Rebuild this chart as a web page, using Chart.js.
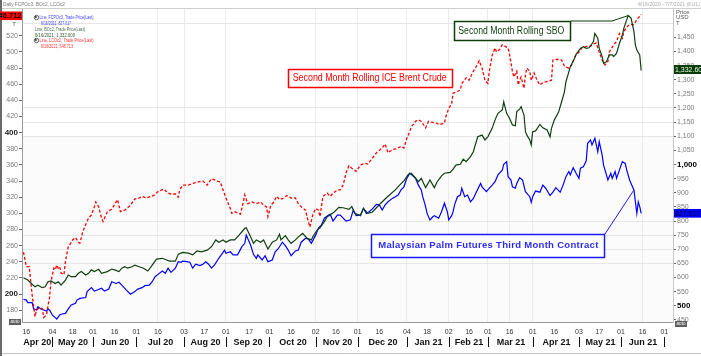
<!DOCTYPE html>
<html><head><meta charset="utf-8">
<style>html,body{margin:0;padding:0;background:#fff;overflow:hidden}canvas{display:block}</style>
<script src="https://cdn.jsdelivr.net/npm/chart.js@4.4.1/dist/chart.umd.min.js"></script>
</head><body>
<canvas id="c" width="701" height="356" style="width:701px;height:356px"></canvas>
<script>
// x values are calendar days since 2020-04-16
const brentDays = [-2,0,2,4,6,7,9,11,12,14,15,16,17,19,20,21,22,23,24,26,27,29,30,32,34,36,37,39,41,43,45,47,48,50,52,53,54,56,59,61,63,65,68,70,72,75,77,80,83,86,88,91,95,98,100,103,105,106,108,112,115,119,122,125,128,132,134,136,138,141,142,144,148,150,151,153,156,159,162,164,166,167,169,171,173,175,178,180,183,186,188,190,193,194,196,198,200,202,203,205,208,210,212,215,217,219,221,223,225,228,231,234,236,239,242,246,248,250,253,256,259,261,263,265,266,269,271,273,276,278,280,283,286,289,290,292,294,295,298,300,301,304,306,307,309,311,313,315,317,319,320,322,324,325,327,329,331,333,334,336,337,339,340,341,342,344,345,346,348,349,351,353,355,357,361,363,364,367,370,372,375,377,379,382,384,387,390,392,394,396,398,400,402,403,406,408,410,412,413,415,417,420,422,425];
const brentVals = [252,234,234,199,172,180,183,182,171,174,186,195,215,232,230,236,232,234,226,224,240,259,261,267,270,264,263,277,286,294,298,308,314,308,294,290,294,302,305,311,317,302,304,307,310,318,318,321,319,321,322,327,330,325,324,324,320,329,335,335,337,339,340,335,343,340,339,329,319,306,300,302,299,314,323,312,314,312,314,310,308,296,310,314,321,317,319,322,319,319,312,308,304,296,283,298,306,304,296,321,325,321,325,329,329,335,350,359,356,352,360,362,361,368,375,381,386,375,379,380,383,381,393,401,407,414,416,414,406,414,413,412,410,412,420,430,436,449,451,453,461,468,465,469,476,482,489,480,465,461,476,496,505,500,503,509,507,505,497,476,469,476,459,465,469,455,472,480,476,465,474,465,459,462,464,465,490,491,490,482,480,484,494,500,505,507,507,510,511,500,490,484,488,500,509,513,523,517,525,531,534,534,540,546.712];

const sboDays = [-2,1,4,6,8,11,13,15,17,20,22,24,27,29,31,34,36,38,41,43,45,47,50,52,56,59,61,64,66,68,70,73,75,78,81,84,87,90,94,97,99,103,105,108,112,115,118,121,125,128,131,133,136,138,141,144,147,149,151,152,155,157,159,162,164,167,170,173,175,176,179,181,183,186,188,191,194,197,198,201,203,206,208,210,213,216,219,223,225,227,231,233,236,239,242,245,248,251,255,258,261,264,266,269,271,273,276,279,282,284,287,289,293,295,297,300,302,304,307,309,310,312,315,317,319,322,324,326,329,330,332,334,336,338,339,341,342,344,345,346,348,349,350,352,355,357,360,362,363,365,368,370,372,373,375,376,379,380,383,385,387,389,392,393,395,396,398,399,401,403,405,406,408,410,412,413,415,416,417,418,420,421,422,424,425];
const sboVals = [599,591,576,567,573,564,567,585,588,579,585,573,591,609,603,603,615,621,609,615,627,621,629,615,621,630,627,621,633,638,633,638,644,638,633,623,644,665,668,662,658,658,682,689,686,680,694,691,697,709,733,725,733,725,733,733,750,762,774,776,744,721,733,725,733,701,725,733,753,733,748,733,721,733,744,756,739,733,744,768,776,798,815,821,833,848,847,841,851,827,819,845,827,831,847,863,878,892,910,927,942,965,969,953,939,951,918,945,918,939,960,969,972,984,998,1001,1019,1010,1028,1045,1063,1098,1104,1087,1098,1128,1158,1181,1193,1222,1181,1164,1140,1137,1187,1196,1205,1175,1116,1104,1087,1069,1116,1119,1142,1130,1122,1098,1128,1158,1187,1222,1258,1293,1328,1346,1376,1390,1411,1417,1411,1413,1435,1464,1447,1411,1382,1358,1364,1388,1388,1382,1394,1429,1458,1482,1512,1527,1523,1518,1470,1423,1405,1388,1332.6];

const palmDays = [-2,0,1,4,5,7,8,10,12,14,15,16,18,20,21,23,24,27,29,31,34,35,37,41,42,45,47,49,52,54,57,59,62,64,66,69,72,75,77,80,82,85,87,89,91,94,96,98,100,103,105,107,108,111,113,115,117,120,122,124,126,128,130,133,135,137,138,141,143,146,149,151,152,155,157,159,160,163,165,167,170,172,174,177,179,181,183,186,188,190,193,195,197,200,202,204,206,209,210,212,215,217,219,221,224,226,228,231,233,235,237,239,242,244,246,248,250,253,255,257,259,261,263,265,266,269,271,273,274,276,277,279,281,282,285,287,289,291,292,294,295,296,298,300,301,303,305,307,309,311,314,315,318,319,322,324,326,329,330,332,333,335,336,338,339,341,343,345,346,348,349,350,352,355,357,359,362,364,366,369,371,373,375,376,378,380,382,383,385,387,388,390,391,393,395,396,398,399,401,402,404,405,407,408,410,412,414,415,417,418,420,421,422,423,424,425];
const palmVals = [523,520,511,511,489,485,497,489,485,481,489,485,467,458,453,467,470,473,489,503,509,520,526,529,550,564,552,556,562,552,559,585,579,583,573,556,541,550,559,564,571,573,585,603,611,623,615,633,618,633,656,654,658,656,654,633,647,642,647,656,647,633,644,668,682,697,686,691,680,680,709,721,750,715,682,668,680,662,677,656,662,691,701,725,713,697,677,694,697,725,739,736,721,750,776,786,810,821,824,800,821,821,810,800,804,839,819,821,845,827,833,842,859,857,839,857,868,880,886,892,910,921,951,969,965,951,927,910,886,851,827,804,815,819,810,833,863,833,804,819,833,857,886,892,916,886,892,868,880,902,933,921,904,910,927,939,963,980,1001,1010,957,945,921,916,933,953,945,904,898,886,866,886,906,902,927,916,890,902,918,902,927,957,975,963,989,969,951,987,992,1012,1075,1087,1069,1093,1045,1081,1034,998,963,945,969,951,975,951,981,1010,1004,981,945,933,910,868,827,868,851,827.017];

const tickDates = ['2020-04-16','2020-05-04','2020-05-18','2020-06-01','2020-06-16','2020-07-01','2020-07-16','2020-08-03','2020-08-17','2020-09-01','2020-09-17','2020-10-01','2020-10-16','2020-11-02','2020-11-16','2020-12-01','2020-12-16','2021-01-04','2021-01-18','2021-02-02','2021-02-16','2021-03-01','2021-03-16','2021-04-01','2021-04-16','2021-05-03','2021-05-17','2021-06-01','2021-06-16','2021-07-01'];
const tickLabels = tickDates.map(s => s.slice(8));
const monthStarts = ['2020-05-04','2020-06-01','2020-07-01','2020-08-03','2020-09-01','2020-10-01','2020-11-02','2020-12-01','2021-01-04','2021-02-02','2021-03-01','2021-04-01','2021-05-03','2021-06-01','2021-07-01'];
const monthLabels = ['Apr 20','May 20','Jun 20','Jul 20','Aug 20','Sep 20','Oct 20','Nov 20','Dec 20','Jan 21','Feb 21','Mar 21','Apr 21','May 21','Jun 21'];
const gridDates = ['2020-07-16','2020-08-03','2020-09-01','2020-11-02','2020-12-01','2021-01-04','2021-02-02','2021-03-01','2021-03-16','2021-04-01','2021-06-16'];
const leftTicks = [180,200,220,240,260,280,300,320,340,360,380,400,420,440,460,480,500,520];
const leftBold = [200,400];
const rightTicks = [450,500,550,600,650,700,750,800,850,900,950,1000,1050,1100,1150,1200,1250,1300,1350,1400,1450];
const rightBold = [500,1000];
const rightGrid = [650,700,750,800,1100,1150,1200,1500];

const FONT = "'Liberation Sans', Arial, sans-serif";
const BASE = Date.UTC(2020,3,16);
const dayOf = s => { const p = s.split('-').map(Number); return Math.round((Date.UTC(p[0],p[1]-1,p[2]) - BASE)/86400000); };
const tickDays = tickDates.map(dayOf);
const monthDays = monthStarts.map(dayOf);
const gridDays = gridDates.map(dayOf);
const pts = (xs, ys) => xs.map((x,i) => ({x, y: ys[i]}));
const tv = c => (c && c.tick) ? c.tick.value : null;

function drawFit(ctx, text, x, y, font, color, target, align) {
  ctx.save();
  ctx.font = font; ctx.fillStyle = color; ctx.textBaseline = 'middle'; ctx.textAlign = 'left';
  const w = ctx.measureText(text).width;
  const left = align === 'center' ? x - target/2 : (align === 'right' ? x - target : x);
  if (w >= target) {
    ctx.translate(left, y); ctx.scale(target / w, 1); ctx.fillText(text, 0, 0);
  } else {
    const gap = (target - w) / Math.max(1, text.length - 1);
    let cx = left;
    for (const ch of text) { ctx.fillText(ch, cx, y); cx += ctx.measureText(ch).width + gap; }
  }
  ctx.restore();
}

const deco = {
  id: 'deco',
  beforeDraw(chart) {
    const {ctx, chartArea: a, scales} = chart;
    ctx.save();
    ctx.fillStyle = '#fff'; ctx.fillRect(0, 0, chart.width, chart.height);
    const ys = scales.yR.getPixelForValue(1100);
    ctx.fillStyle = '#fbfbfb'; ctx.fillRect(a.left, ys, a.right - a.left, a.bottom - ys);
    ctx.restore();
  },
  afterDraw(chart) {
    const {ctx, chartArea: a, scales} = chart;
    const X = scales.x, YL = scales.yL, YR = scales.yR;
    ctx.save();
    ctx.strokeStyle = '#cfcfcf'; ctx.lineWidth = 1;
    ctx.beginPath(); ctx.moveTo(0, 8.5); ctx.lineTo(701, 8.5); ctx.stroke();
    ctx.strokeStyle = '#c4c4c4';
    ctx.beginPath(); ctx.moveTo(0, 353.5); ctx.lineTo(701, 353.5); ctx.stroke();
    ctx.fillStyle = '#6a6a6a'; ctx.fillRect(0, 0, 2, 356);

    ctx.strokeStyle = '#111'; ctx.lineWidth = 1;
    let prev = a.left;
    monthDays.forEach((d, i) => {
      const px = Math.round(X.getPixelForValue(d)) + 0.5;
      ctx.beginPath(); ctx.moveTo(px, 337); ctx.lineTo(px, 347); ctx.stroke();
      ctx.font = 'bold 9px ' + FONT; ctx.fillStyle = '#111'; ctx.textAlign = 'center'; ctx.textBaseline = 'middle';
      ctx.fillText(monthLabels[i], (prev + px) / 2, 342.5);
      prev = px;
    });

    const pk = {x: X.getPixelForValue(416), y: YR.getPixelForValue(1527)};
    ctx.strokeStyle = '#0d3d0d'; ctx.lineWidth = 1;
    ctx.beginPath(); ctx.moveTo(571, 21); ctx.lineTo(612, 21); ctx.lineTo(pk.x, pk.y); ctx.stroke();
    const pp = {x: X.getPixelForValue(420), y: YR.getPixelForValue(910)};
    ctx.strokeStyle = '#1a1aff';
    ctx.beginPath(); ctx.moveTo(605, 234); ctx.lineTo(pp.x, pp.y); ctx.stroke();

    const box = (x0, y0, x1, y1, col) => {
      ctx.fillStyle = '#fff'; ctx.fillRect(x0, y0, x1 - x0, y1 - y0);
      ctx.strokeStyle = col; ctx.lineWidth = 1.5; ctx.strokeRect(x0 + 0.5, y0 + 0.5, x1 - x0 - 1, y1 - y0 - 1);
    };
    box(288, 69, 453, 88, '#ff0000');
    drawFit(ctx, 'Second Month Rolling ICE Brent Crude', 369.7, 78.3, '10px ' + FONT, '#ff0000', 154, 'center');
    box(454, 21, 571, 41, '#0d3d0d');
    drawFit(ctx, 'Second Month Rolling SBO', 511.3, 30.8, '10.5px ' + FONT, '#0d3d0d', 106, 'center');
    box(371, 234, 605, 258, '#1a1aff');
    drawFit(ctx, 'Malaysian Palm Futures Third Month Contract', 488.3, 245.5, 'bold 9.5px ' + FONT, '#2b2bff', 220, 'center');

    const icon = (x, y) => {
      ctx.strokeStyle = '#333'; ctx.lineWidth = 0.8;
      ctx.beginPath(); ctx.arc(x, y, 2.2, 0, Math.PI * 2); ctx.stroke();
      ctx.fillStyle = '#333'; ctx.beginPath(); ctx.arc(x - 0.6, y - 0.6, 1, 0, Math.PI * 2); ctx.fill();
    };
    icon(36.5, 17.5); icon(36.5, 40.5);
    drawFit(ctx, 'Line, FCPOc3, Trade Price(Last)', 39.5, 17.5, '5.5px ' + FONT, '#3a3aff', 54, 'left');
    drawFit(ctx, '6/16/2021, 827.017', 41, 23.5, '5.5px ' + FONT, '#3a3aff', 30, 'left');
    drawFit(ctx, 'Line, BOc2, Trade Price(Last)', 35, 29.3, '5.5px ' + FONT, '#4a6a4a', 50, 'left');
    drawFit(ctx, '6/16/2021, 1,332.600', 35, 35, '5.5px ' + FONT, '#2d5a2d', 40, 'left');
    drawFit(ctx, 'Line, LCOc2, Trade Price(Last)', 39.5, 40.7, '5.5px ' + FONT, '#ff3030', 54, 'left');
    drawFit(ctx, '6/16/2021, 546.713', 41, 46.6, '5.5px ' + FONT, '#ff3030', 32, 'left');

    drawFit(ctx, 'Daily FCPOc3, BOc2, LCOc2', 3, 4.5, '6px ' + FONT, '#777', 62, 'left');
    drawFit(ctx, '4/16/2020 - 7/7/2021 (KUL)', 700, 4.2, '6px ' + FONT, '#aaa', 62, 'right');

    ctx.font = '6px ' + FONT; ctx.fillStyle = '#555'; ctx.textAlign = 'center'; ctx.textBaseline = 'middle';
    ctx.fillText('T', 14, 24);
    ctx.textAlign = 'left';
    ctx.fillText('Price', 676, 12); ctx.fillText('USD', 676, 17.5); ctx.fillText('T', 676, 23.5);

    const auto = (x, y) => {
      ctx.fillStyle = '#5e5e5e'; ctx.fillRect(x, y, 12, 6);
      ctx.font = '4.5px ' + FONT; ctx.fillStyle = '#fff'; ctx.textAlign = 'center'; ctx.textBaseline = 'middle';
      ctx.fillText('auto', x + 6, y + 3.2);
    };
    auto(9, 319); auto(675, 321);

    const valBox = (x0, x1, yc, bg, fg, txt, alignRight) => {
      ctx.save();
      ctx.beginPath(); ctx.rect(x0, yc - 4.5, x1 - x0, 9); ctx.clip();
      ctx.fillStyle = bg; ctx.fillRect(x0, yc - 4.5, x1 - x0, 9);
      ctx.font = (alignRight ? 'bold 7.5px ' : '7px ') + FONT; ctx.fillStyle = fg; ctx.textBaseline = 'middle';
      ctx.textAlign = alignRight ? 'right' : 'left';
      ctx.fillText(txt, alignRight ? x1 - 0.5 : x0 + 1, yc + 0.5);
      ctx.restore();
    };
    valBox(0, 22, YL.getPixelForValue(546.712) + 1.5, '#ff0000', '#000', '546.712', true);
    valBox(674, 701, YR.getPixelForValue(1332.6) - 1, '#0a3a0a', '#e6ffe6', '1,332.600', false);
    valBox(674, 701, YR.getPixelForValue(827.017), '#0000ff', '#000022', '827.017', false);
    ctx.restore();
  }
};

new Chart(document.getElementById('c'), {
  type: 'line',
  data: {
    datasets: [
      {label: 'BOc2', data: pts(sboDays, sboVals), yAxisID: 'yR', borderColor: '#0f3f0f', borderWidth: 1.2},
      {label: 'LCOc2', data: pts(brentDays, brentVals), yAxisID: 'yL', borderColor: '#ff0000', borderWidth: 1.3, borderDash: [3, 2]},
      {label: 'FCPOc3', data: pts(palmDays, palmVals), yAxisID: 'yR', borderColor: '#0000ff', borderWidth: 1.2}
    ]
  },
  options: {
    responsive: false, animation: false, devicePixelRatio: 1,
    layout: {padding: {top: 9, left: 0, right: 0, bottom: 0}},
    elements: {point: {radius: 0, hoverRadius: 0}, line: {tension: 0}},
    plugins: {legend: {display: false}, tooltip: {enabled: false}},
    events: [],
    scales: {
      x: {
        type: 'linear', min: -3, max: 447,
        afterBuildTicks: s => { s.ticks = tickDays.map(v => ({value: v})); },
        afterFit: s => { s.height = 34; },
        ticks: {autoSkip: false, maxRotation: 0, minRotation: 0, padding: 6, color: '#333',
          font: {family: FONT, size: 7}, callback: (v, i) => tickLabels[i]},
        grid: {drawTicks: false, lineWidth: 1,
          color: c => gridDays.includes(tv(c)) ? '#ebebeb' : 'rgba(0,0,0,0)'},
        border: {display: true, color: '#9a9a9a'}
      },
      yL: {
        type: 'linear', position: 'left', min: 165.3, max: 553.3,
        afterBuildTicks: s => { s.ticks = leftTicks.map(v => ({value: v})); },
        afterFit: s => { s.width = 22; },
        ticks: {padding: 1, autoSkip: false,
          font: c => leftBold.includes(tv(c)) ? {family: FONT, size: 8, weight: 'bold'} : {family: FONT, size: 7},
          color: c => leftBold.includes(tv(c)) ? '#222' : '#7a7a7a'},
        grid: {drawOnChartArea: false, tickLength: 3, tickColor: '#666'},
        border: {display: true, color: '#9a9a9a'}
      },
      yR: {
        type: 'linear', position: 'right', min: 442.5, max: 1550.4,
        afterBuildTicks: s => { s.ticks = rightTicks.concat([1500]).map(v => ({value: v})); },
        afterFit: s => { s.width = 28; },
        ticks: {padding: 1, autoSkip: false,
          callback: v => rightTicks.includes(v) ? v.toLocaleString('en-US') : '',
          font: c => rightBold.includes(tv(c)) ? {family: FONT, size: 8, weight: 'bold'} : {family: FONT, size: 7},
          color: c => rightBold.includes(tv(c)) ? '#000' : '#7a7a7a'},
        grid: {tickLength: 3,
          color: c => rightGrid.includes(tv(c)) ? '#e6e6e6' : 'rgba(0,0,0,0)',
          tickColor: c => rightTicks.includes(tv(c)) ? '#666' : 'rgba(0,0,0,0)'},
        border: {display: true, color: '#c8c8c8'}
      }
    }
  },
  plugins: [deco]
});
</script>
</body></html>
